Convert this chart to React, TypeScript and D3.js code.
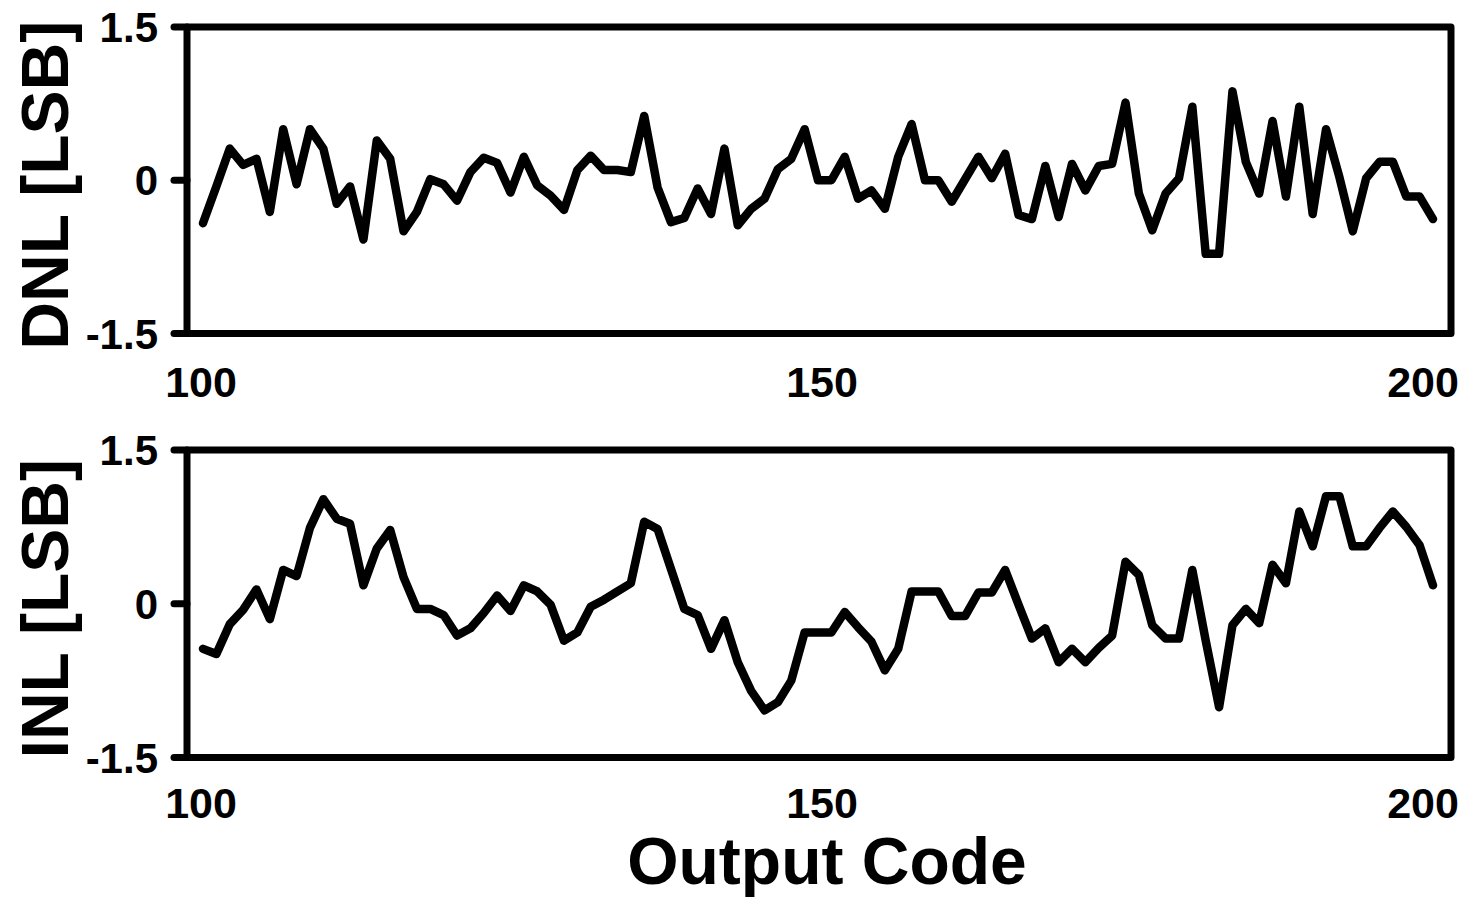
import { useEffect, useRef } from 'react';

import { line, scaleLinear, select } from 'd3';

// DNL per sample (LSB)
const dnl = [
  -0.42, -0.06, 0.31, 0.15, 0.21, -0.31, 0.5, -0.04, 0.5, 0.31,
  -0.23, -0.06, -0.58, 0.39, 0.21, -0.5, -0.31, 0.01, -0.04, -0.2,
  0.08, 0.22, 0.17, -0.12, 0.23, -0.05, -0.15, -0.29, 0.1, 0.24,
  0.1, 0.1, 0.08, 0.63, -0.07, -0.41, -0.37, -0.08, -0.33, 0.31,
  -0.44, -0.28, -0.18, 0.11, 0.21, 0.5, 0.0, 0.0, 0.23, -0.18,
  -0.1, -0.28, 0.23, 0.55, 0.0, 0.0, -0.21, 0.01, 0.23, 0.02,
  0.26, -0.34, -0.38, 0.14, -0.36, 0.16, -0.1, 0.14, 0.16, 0.76,
  -0.13, -0.49, -0.13, 0.02, 0.72, -0.72, -0.72, 0.87, 0.18, -0.13,
  0.58, -0.16, 0.72, -0.33, 0.5, 0.03, -0.5, 0.02, 0.18, 0.18,
  -0.16, -0.16, -0.38,
];

// INL per sample (LSB)
const inl = [
  -0.44, -0.49, -0.2, -0.06, 0.14, -0.15, 0.33, 0.27, 0.74, 1.02,
  0.83, 0.78, 0.18, 0.54, 0.72, 0.26, -0.05, -0.05, -0.11, -0.31,
  -0.24, -0.09, 0.08, -0.07, 0.18, 0.12, -0.01, -0.36, -0.28, -0.03,
  0.04, 0.12, 0.2, 0.8, 0.73, 0.34, -0.05, -0.11, -0.44, -0.16,
  -0.57, -0.85, -1.04, -0.96, -0.75, -0.28, -0.28, -0.28, -0.08, -0.23,
  -0.37, -0.65, -0.44, 0.12, 0.12, 0.12, -0.12, -0.12, 0.11, 0.11,
  0.33, -0.01, -0.34, -0.24, -0.57, -0.44, -0.57, -0.43, -0.31, 0.41,
  0.28, -0.21, -0.34, -0.34, 0.33, -0.36, -1.01, -0.21, -0.05, -0.19,
  0.38, 0.2, 0.9, 0.56, 1.05, 1.05, 0.56, 0.56, 0.74, 0.9,
  0.75, 0.57, 0.18,
];

const xTickLabels = [100, 150, 200];
const yTickValues = [1.5, 0, -1.5];

const W = 1468;
const H = 897;
const FONT = '"Liberation Sans", Arial, Helvetica, sans-serif';

export default function App() {
  const svgRef = useRef<SVGSVGElement>(null);

  useEffect(() => {
    const el = svgRef.current;
    if (!el) return;
    const svg = select(el);
    svg.selectAll('*').remove();

    const left = 187;
    const right = 1451;

    // samples are spread over the plot; labels sit where the original put them
    const xData = scaleLinear()
      .domain([0, dnl.length - 1])
      .range([203, 1433]);
    const xLabel = scaleLinear()
      .domain([100, 150, 200])
      .range([201, 822, 1423]);

    const panels = [
      { values: dnl, title: 'DNL [LSB]', top: 27, bottom: 333.5, labelGap: 63.5 },
      { values: inl, title: 'INL [LSB]', top: 450, bottom: 757.5, labelGap: 60 },
    ];

    panels.forEach((p) => {
      const y = scaleLinear().domain([-1.5, 1.5]).range([p.bottom, p.top]);
      const g = svg.append('g');

      // frame
      g.append('rect')
        .attr('x', left)
        .attr('y', p.top)
        .attr('width', right - left)
        .attr('height', p.bottom - p.top)
        .attr('fill', 'none')
        .attr('stroke', '#000')
        .attr('stroke-width', 7)
        .attr('stroke-linejoin', 'round');

      // y ticks
      g.selectAll('line.ytick')
        .data(yTickValues)
        .join('line')
        .attr('class', 'ytick')
        .attr('x1', left - 13)
        .attr('x2', left)
        .attr('y1', (d) => y(d))
        .attr('y2', (d) => y(d))
        .attr('stroke', '#000')
        .attr('stroke-width', 7)
        .attr('stroke-linecap', 'round');

      g.selectAll('text.ylab')
        .data(yTickValues)
        .join('text')
        .attr('class', 'ylab')
        .attr('x', 158)
        .attr('y', (d) => y(d))
        .attr('dy', '0.36em')
        .attr('text-anchor', 'end')
        .attr('font-family', FONT)
        .attr('font-weight', 'bold')
        .attr('font-size', 42)
        .text((d) => String(d));

      // x tick labels
      g.selectAll('text.xlab')
        .data(xTickLabels)
        .join('text')
        .attr('class', 'xlab')
        .attr('x', (d) => xLabel(d))
        .attr('y', p.bottom + p.labelGap)
        .attr('text-anchor', 'middle')
        .attr('font-family', FONT)
        .attr('font-weight', 'bold')
        .attr('font-size', 43)
        .text((d) => String(d));

      // data line
      g.append('path')
        .datum(p.values)
        .attr(
          'd',
          line<number>()
            .x((_, i) => xData(i))
            .y((d) => y(d))
        )
        .attr('fill', 'none')
        .attr('stroke', '#000')
        .attr('stroke-width', 8.5)
        .attr('stroke-linejoin', 'round')
        .attr('stroke-linecap', 'round');

      // y title
      g.append('text')
        .attr('transform', `translate(68,${(p.top + p.bottom) / 2 + 5}) rotate(-90)`)
        .attr('text-anchor', 'middle')
        .attr('font-family', FONT)
        .attr('font-weight', 'bold')
        .attr('font-size', 66)
        .text(p.title);
    });

    svg
      .append('text')
      .attr('x', 827)
      .attr('y', 884)
      .attr('text-anchor', 'middle')
      .attr('font-family', FONT)
      .attr('font-weight', 'bold')
      .attr('font-size', 66)
      .text('Output Code');
  }, []);

  return (
    <svg
      ref={svgRef}
      width={W}
      height={H}
      style={{ position: 'absolute', left: 0, top: 0, background: '#fff' }}
    />
  );
}
